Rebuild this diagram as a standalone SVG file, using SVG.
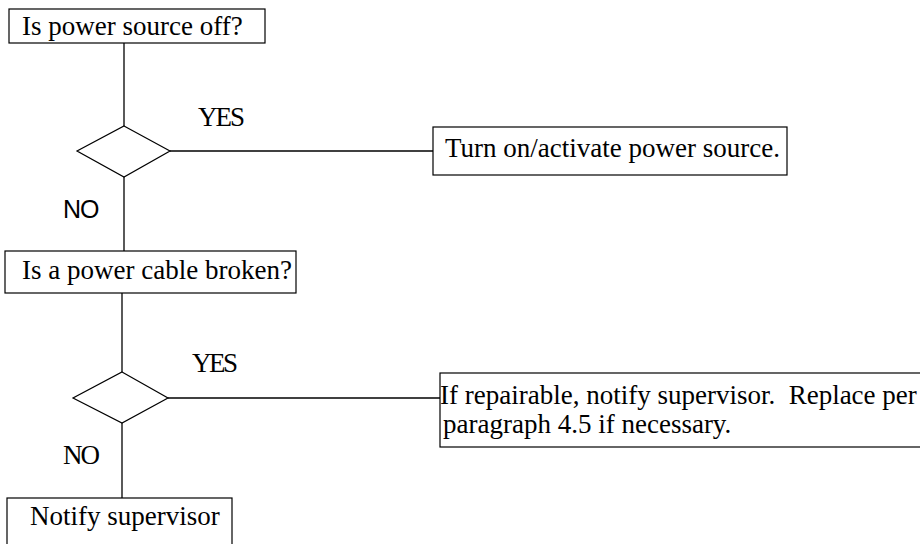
<svg xmlns="http://www.w3.org/2000/svg" width="920" height="544" viewBox="0 0 920 544">
<style>
.box{fill:#fff;stroke:#000;stroke-width:1.2}
.dia{fill:#fff;stroke:#000;stroke-width:1.2}
.ln{stroke:#000;stroke-width:1.3;fill:none}
.t{font-family:"Liberation Serif","Times New Roman",serif;font-size:27px;fill:#000;white-space:pre}
.s{font-family:"Liberation Sans",Arial,sans-serif;font-size:25px;fill:#000;letter-spacing:-1px}
</style>
<rect width="920" height="544" fill="#fff"/>
<g id="connectors">
<line class="ln" x1="124" y1="43" x2="124" y2="126"/>
<line class="ln" x1="170" y1="151" x2="433" y2="151"/>
<line class="ln" x1="124" y1="177" x2="124" y2="251"/>
<line class="ln" x1="122" y1="293" x2="122" y2="372"/>
<line class="ln" x1="168" y1="398" x2="440" y2="398"/>
<line class="ln" x1="122" y1="423" x2="122" y2="498"/>
<text class="t" x="198" y="126" textLength="47">YES</text>
<text class="s" x="63" y="218">NO</text>
<text class="t" x="192" y="372" textLength="46">YES</text>
<text class="t" x="63" y="464" textLength="37">NO</text>
</g>
<g id="n1">
<rect class="box" x="9" y="9" width="256" height="34"/>
<text class="t" x="22" y="35">Is power source off?</text>
</g>
<g id="d1">
<polygon class="dia" points="124,126 170,151 124,177 77,151"/>
</g>
<g id="n2">
<rect class="box" x="433" y="127" width="354" height="48"/>
<text class="t" x="445" y="157">Turn on/activate power source.</text>
</g>
<g id="n3">
<rect class="box" x="5" y="251" width="291" height="42"/>
<text class="t" x="22" y="279">Is a power cable broken?</text>
</g>
<g id="d2">
<polygon class="dia" points="122,372 168,398 122,423 73,398"/>
</g>
<g id="n4">
<rect class="box" x="440" y="373" width="500" height="74"/>
<text class="t" x="440" y="404" xml:space="preserve">If repairable, notify supervisor.  Replace per</text>
<text class="t" x="443" y="433">paragraph 4.5 if necessary.</text>
</g>
<g id="n5">
<rect class="box" x="7" y="498" width="225" height="60"/>
<text class="t" x="30" y="525">Notify supervisor</text>
</g>
</svg>
